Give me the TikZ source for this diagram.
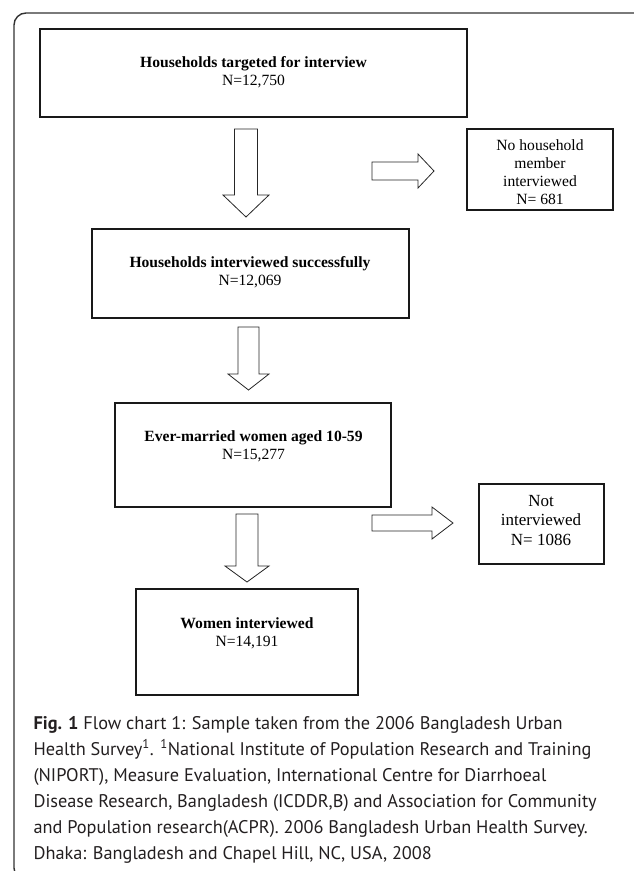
\documentclass[tikz,border=0pt]{standalone}
\usepackage{fontspec}
\newfontfamily\boxfont{Liberation Serif}
\newfontfamily\capfont{PT Sans}
\definecolor{frmgray}{RGB}{50,50,50}
\definecolor{capgray}{RGB}{35,31,32}

% block arrows: x, top, base, tip, half shaft, half head
\newcommand{\blkdown}[6]{%
  \draw[blk] ({#1-#5},#2) -- ({#1+#5},#2) -- ({#1+#5},#3) -- ({#1+#6},#3)
    -- (#1,#4) -- ({#1-#6},#3) -- ({#1-#5},#3) -- cycle;}
% y, left, base, tip, half shaft, half head
\newcommand{\blkright}[6]{%
  \draw[blk] (#2,{#1-#5}) -- (#3,{#1-#5}) -- (#3,{#1-#6}) -- (#4,#1)
    -- (#3,{#1+#6}) -- (#3,{#1+#5}) -- (#2,{#1+#5}) -- cycle;}

\begin{document}
\begin{tikzpicture}[x=1pt,y=-1pt,
  box/.style={draw=black!90,line width=1.1pt,inner sep=0pt},
  boxtxt/.style={align=center,font=\boxfont\fontsize{15.6}{18}\selectfont},
  blk/.style={draw=black!85,fill=white,line width=0.8pt},
  captxt/.style={align=left,text=capgray,font=\capfont\fontsize{18.3}{26}\selectfont}]
  \useasboundingbox (0,0) rectangle (633,871);
  \draw[frmgray,line width=1.4pt,rounded corners=12pt] (14,13) rectangle (700,880);

  % boxes
  \node[box,minimum width=427,minimum height=88] (target) at (253.5,73) {};
  \node[boxtxt] (target-t) at (253.5,72) {\textbf{Households targeted for interview}\\N=12,750};
  \node[box,minimum width=146,minimum height=81] (nohh) at (540,169.5) {};
  \node[boxtxt] (nohh-t) at (540,172) {No household\\member\\interviewed\\N= 681};
  \node[box,minimum width=317,minimum height=89] (success) at (250.5,273.5) {};
  \node[boxtxt] (success-t) at (250,272) {\textbf{Households interviewed successfully}\\N=12,069};
  \node[box,minimum width=276,minimum height=104] (evermar) at (253,455) {};
  \node[boxtxt] (evermar-t) at (253.5,446) {\textbf{Ever-married women aged 10-59}\\N=15,277};
  \node[box,minimum width=125,minimum height=80] (notint) at (541.5,524) {};
  \node[boxtxt,font=\boxfont\fontsize{17}{19.5}\selectfont] (notint-t) at (541,520.5) {Not\\interviewed\\N= 1086};
  \node[box,minimum width=222,minimum height=106] (women) at (247,642) {};
  \node[boxtxt] (women-t) at (247,633) {\textbf{Women interviewed}\\N=14,191};

  % arrows
  \blkdown{246}{129}{195}{217}{11.5}{23}
  \blkright{171}{372}{418}{434}{9}{17}
  \blkdown{248.5}{327}{374}{390}{10.5}{20.5}
  \blkright{523}{372}{432}{453}{8}{16}
  \blkdown{247}{514}{566}{582}{11}{22}

  \node[captxt,anchor=west] (caption) at (30,789.5) {\textbf{Fig. 1} Flow chart 1: Sample taken from the 2006 Bangladesh Urban\\
    Health Survey\textsuperscript{1}. \textsuperscript{1}National Institute of Population Research and Training\\
    (NIPORT), Measure Evaluation, International Centre for Diarrhoeal\\
    Disease Research, Bangladesh (ICDDR,B) and Association for Community\\
    and Population research(ACPR). 2006 Bangladesh Urban Health Survey.\\
    Dhaka: Bangladesh and Chapel Hill, NC, USA, 2008};
\end{tikzpicture}
\end{document}
